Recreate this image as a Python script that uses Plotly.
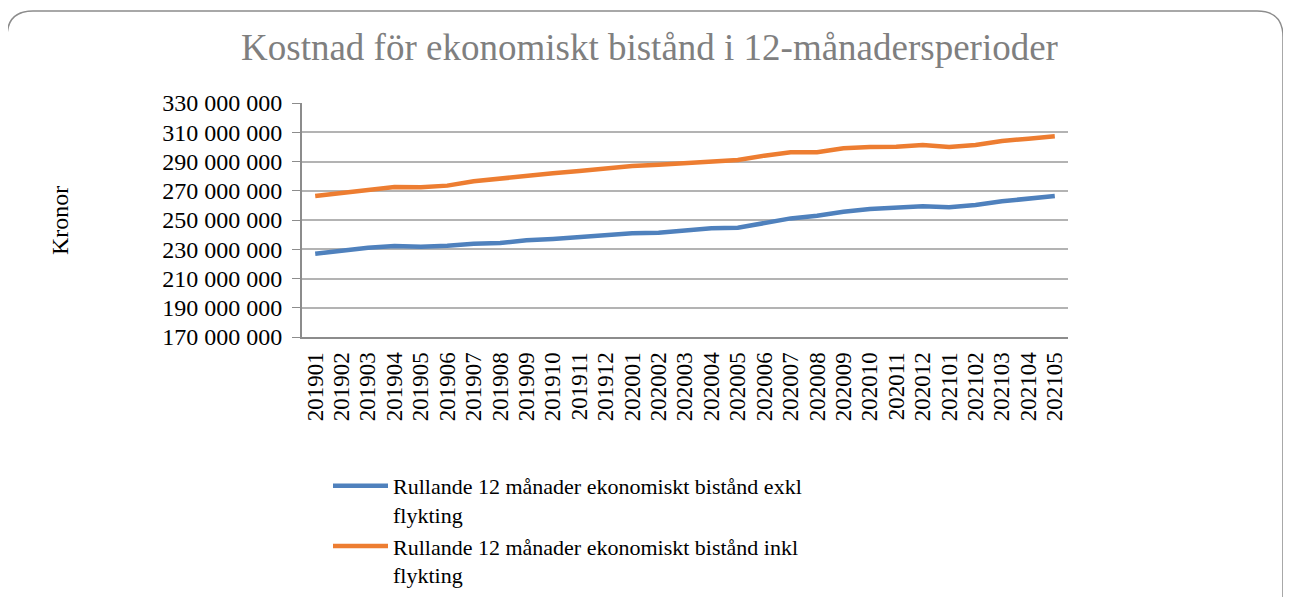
import plotly.graph_objects as go

months = ["201901","201902","201903","201904","201905","201906","201907","201908","201909","201910",
          "201911","201912","202001","202002","202003","202004","202005","202006","202007","202008",
          "202009","202010","202011","202012","202101","202102","202103","202104","202105"]

exkl = [227.0, 229.0, 231.0, 232.2, 231.7, 232.4, 233.8, 234.3, 236.1, 237.0,
        238.4, 239.7, 240.9, 241.3, 242.5, 244.3, 244.7, 247.7, 251.1, 252.9,
        255.7, 257.5, 258.4, 259.4, 258.7, 260.3, 262.8, 264.4, 266.4]
inkl = [266.4, 268.7, 271.0, 272.6, 272.4, 273.5, 276.5, 278.5, 280.6, 281.9,
        283.5, 285.3, 286.9, 287.8, 289.0, 290.3, 291.0, 294.0, 296.3, 296.3,
        299.0, 299.9, 300.1, 301.3, 299.9, 301.3, 304.0, 305.6, 307.2]
exkl = [v * 1e6 for v in exkl]
inkl = [v * 1e6 for v in inkl]

y_ticks = [170e6, 190e6, 210e6, 230e6, 250e6, 270e6, 290e6, 310e6, 330e6]
y_labels = ["170 000 000", "190 000 000", "210 000 000", "230 000 000", "250 000 000",
            "270 000 000", "290 000 000", "310 000 000", "330 000 000"]

names = ["Rullande 12 månader ekonomiskt bistånd exkl<br>flykting",
         "Rullande 12 månader ekonomiskt bistånd inkl<br>flykting"]

FONT = "Liberation Serif, Times New Roman, serif"

fig = go.Figure()
fig.add_trace(go.Scatter(x=months, y=exkl, mode="lines", name=names[0],
                         line=dict(color="#4f81bd", width=4.5)))
fig.add_trace(go.Scatter(x=months, y=inkl, mode="lines", name=names[1],
                         line=dict(color="#ed7d31", width=4.5)))

# page body has an 8px margin; work in screen pixels and subtract it
OFF = 8
W, H = 1291 - 2 * OFF, 605 - 2 * OFF
L, R, T, B = 302 - OFF, 1068 - OFF, 103 - OFF, 337 - OFF
pw, ph = R - L, B - T

def px(x):
    return (x - OFF - L) / pw

def py(y):
    return (B - (y - OFF)) / ph

def cx(x):
    return (x - OFF) / W

def cy(y):
    return 1 - (y - OFF) / H

x0, x1, y0, y1, r = 7, 1283, 11, 640, 26
path = (f"M {px(x0)},{py(y0 + r)} "
        f"Q {px(x0)},{py(y0)} {px(x0 + r)},{py(y0)} "
        f"L {px(x1 - r)},{py(y0)} "
        f"Q {px(x1)},{py(y0)} {px(x1)},{py(y0 + r)} "
        f"L {px(x1)},{py(y1)} L {px(x0)},{py(y1)} Z")

fig.add_shape(type="path", path=path, xref="paper", yref="paper",
              line=dict(color="#8c8c8c", width=1.5), layer="below")

fig.add_annotation(text="Kronor", xref="paper", yref="paper",
                   x=px(60), y=py(220), xanchor="center", yanchor="middle",
                   textangle=-90, showarrow=False,
                   font=dict(family=FONT, size=24, color="black"))

fig.update_layout(
    width=W, height=H,
    margin=dict(l=L, r=W - R, t=T, b=H - B, autoexpand=False),
    paper_bgcolor="white", plot_bgcolor="white",
    font=dict(family=FONT, size=23, color="black"),
    title=dict(text="Kostnad för ekonomiskt bistånd i 12-månadersperioder",
               font=dict(family=FONT, size=37, color="#7f7f7f"),
               x=cx((237 + 1062) / 2), xanchor="center",
               y=cy(47), yanchor="middle"),
    showlegend=True,
    legend=dict(xref="container", yref="container",
                x=cx(328), y=cy(465), xanchor="left", yanchor="top",
                valign="top",
                font=dict(family=FONT, size=22, color="black"),
                bgcolor="rgba(0,0,0,0)", tracegroupgap=0, itemwidth=55),
    xaxis=dict(type="category", showgrid=False, showline=True, linecolor="#8c8c8c",
               linewidth=2, tickangle=-90, ticks="", automargin=False,
               tickmode="array", tickvals=months, ticktext=months,
               ticklabelstandoff=4,
               tickfont=dict(family=FONT, size=23),
               range=[-0.5, len(months) - 0.5]),
    yaxis=dict(range=[170e6, 330e6], tickvals=y_ticks, ticktext=y_labels,
               showgrid=True, gridcolor="#b3b3b3", gridwidth=1.5, automargin=False,
               showline=True, linecolor="#8c8c8c", linewidth=2,
               ticks="outside", ticklen=8, tickcolor="#8c8c8c",
               ticklabelstandoff=5,
               tickfont=dict(family=FONT, size=24), zeroline=False),
)

fig.write_html("out.html")
